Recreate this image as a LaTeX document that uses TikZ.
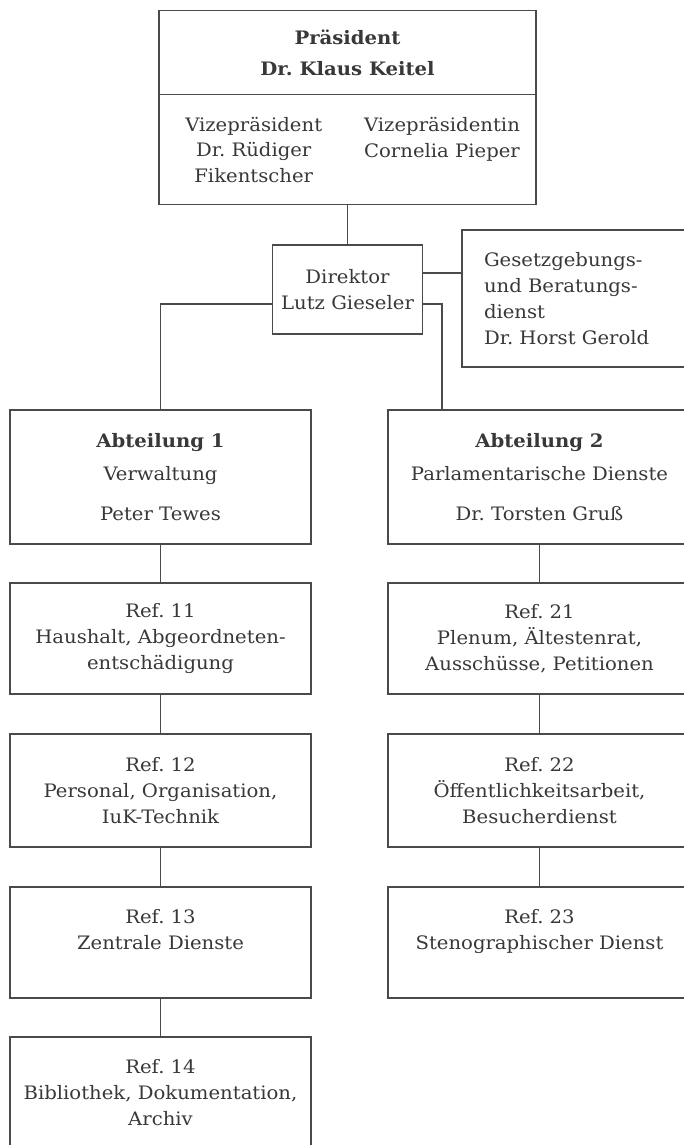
\documentclass[tikz,border=0pt]{standalone}
\usepackage{fontspec}
\setmainfont{DejaVu Serif}[FakeStretch=1.06]
\definecolor{linec}{HTML}{4A4A4A}
\definecolor{txt}{HTML}{383838}
\newcommand{\orgfont}{\fontsize{18.6}{26}\selectfont\frenchspacing}
\tikzset{
  box/.style={draw=linec, line width=1.4bp, inner sep=0pt, align=center,
    font=\orgfont, text=txt},
  lbox/.style={box, minimum width=301bp},
  rbox/.style={box, minimum width=303bp},
  txtnode/.style={inner sep=0pt, align=center, font=\orgfont, text=txt},
  conn/.style={draw=linec, line width=1.4bp}
}
\begin{document}
\begin{tikzpicture}[x=1bp,y=-1bp]
\useasboundingbox (0,0) rectangle (684,1145);
\clip (0,0) rectangle (684,1145);
% President
\node[box, minimum width=377bp, minimum height=194bp] (pres) at (347.5,107.3) {};
\draw[conn] (pres.west |- 0,94.3) coordinate (divl) -- (pres.east |- 0,94.3) coordinate (divr);
\node[txtnode, font=\orgfont\bfseries] (prest) at (347.5,52.5) {Präsident\\[5bp]Dr. Klaus Keitel};
\node[txtnode] (vl) at (253.7,150) {Vizepräsident\\Dr. Rüdiger\\Fikentscher};
\node[txtnode] (vr) at (442,150) {Vizepräsidentin\\Cornelia Pieper\\\mbox{}};
% Director
\node[box, minimum width=150bp, minimum height=89bp] (dir) at (347.5,289.5) {Direktor\\Lutz Gieseler};
% Gesetzgebung
\node[box, align=left, text width=184bp, inner xsep=22bp, minimum height=137bp] (ges) at (576,298.5)
  {Gesetzgebungs-\\und Beratungs-\\dienst\\Dr. Horst Gerold};
% Abteilungen
\node[lbox, minimum height=134bp] (abt1) at (160.5,477) {\textbf{Abteilung 1}\\[7bp]Verwaltung\\[14bp]Peter Tewes};
\node[rbox, minimum height=134bp] (abt2) at (539.5,477) {\textbf{Abteilung 2}\\[7bp]Parlamentarische Dienste\\[14bp]Dr. Torsten Gruß};
% Referate left
\node[lbox, minimum height=111bp] (r11) at (160.5,638.5) {Ref. 11\\Haushalt, Abgeordneten-\\entschädigung};
\node[lbox, minimum height=113bp] (r12) at (160.5,790.5) {Ref. 12\\Personal, Organisation,\\IuK-Technik};
\node[lbox, minimum height=111bp] (r13) at (160.5,942.5) {Ref. 13\\Zentrale Dienste\\\mbox{}};
\node[lbox, minimum height=111bp] (r14) at (160.5,1092.5) {Ref. 14\\Bibliothek, Dokumentation,\\Archiv};
% Referate right
\node[rbox, minimum height=111bp] (r21) at (539.5,638.5) {Ref. 21\\Plenum, Ältestenrat,\\Ausschüsse, Petitionen};
\node[rbox, minimum height=113bp] (r22) at (539.5,790.5) {Ref. 22\\Öffentlichkeitsarbeit,\\Besucherdienst};
\node[rbox, minimum height=111bp] (r23) at (539.5,942.5) {Ref. 23\\Stenographischer Dienst\\\mbox{}};
% Connectors
\draw[conn] (pres.south) -- (dir.north);
\draw[conn] ([yshift=16.5bp]dir.east) -- ([yshift=16.5bp]dir.east -| ges.west);
\draw[conn] ([yshift=-14.5bp]dir.west) -| (abt1.north);
\draw[conn] ([yshift=-14.5bp]dir.east) -| ([xshift=-97.5bp]abt2.north);
\draw[conn] (abt1.south) -- (r11.north);
\draw[conn] (r11.south) -- (r12.north);
\draw[conn] (r12.south) -- (r13.north);
\draw[conn] (r13.south) -- (r14.north);
\draw[conn] (abt2.south) -- (r21.north);
\draw[conn] (r21.south) -- (r22.north);
\draw[conn] (r22.south) -- (r23.north);
\end{tikzpicture}
\end{document}
